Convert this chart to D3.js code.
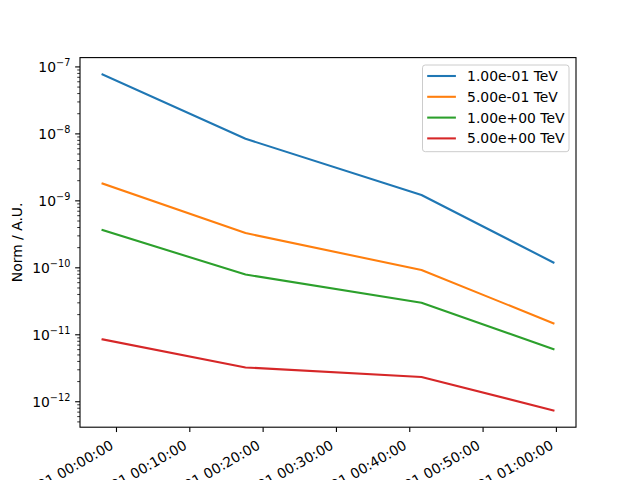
<!DOCTYPE html>
<html>
<head>
<meta charset="utf-8">
<script src="https://cdn.jsdelivr.net/npm/d3@7"></script>
<style>
  body { margin: 0; background: #fff; }
  text { font-family: "DejaVu Sans", sans-serif; }
</style>
</head>
<body>
<svg id="chart" width="640" height="480"></svg>
<script>
// Data
var timeLabels = ["1999-12-31 23:58:10", "2000-01-01 00:17:40", "2000-01-01 00:41:40", "2000-01-01 00:59:40"];
var energies = ["1.00e-01 TeV", "5.00e-01 TeV", "1.00e+00 TeV", "5.00e+00 TeV"];
var norm0 = [7.6e-8, 8.3e-9, 1.2e-9, 1.18e-10];
var norm1 = [1.78e-9, 3.25e-10, 9.1e-11, 1.46e-11];
var norm2 = [3.6e-10, 7.8e-11, 2.95e-11, 6.0e-12];
var norm3 = [8.4e-12, 3.2e-12, 2.3e-12, 7.3e-13];
var tickLabels = ["2000-01-01 00:00:00", "2000-01-01 00:10:00", "2000-01-01 00:20:00",
                  "2000-01-01 00:30:00", "2000-01-01 00:40:00", "2000-01-01 00:50:00",
                  "2000-01-01 01:00:00"];
var decades = [-12, -11, -10, -9, -8, -7];
var colours = ["#1f77b4", "#ff7f0e", "#2ca02c", "#d62728"];

var parse = d3.timeParse("%Y-%m-%d %H:%M:%S");
var fmt = d3.timeFormat("%Y-%m-%d %H:%M:%S");
var times = timeLabels.map(parse);
var tickTimes = tickLabels.map(parse);
var series = [norm0, norm1, norm2, norm3];

// Axes box, matplotlib default placement
var margin = { top: 57.6, right: 64, bottom: 52.8, left: 80 };
var width = 640 - margin.left - margin.right;
var height = 480 - margin.top - margin.bottom;

// 5% margins like matplotlib (log space for y)
var t0 = times[0].getTime(), t1 = times[times.length - 1].getTime();
var padT = (t1 - t0) * 0.05;
var x = d3.scaleTime().domain([new Date(t0 - padT), new Date(t1 + padT)]).range([0, width]);

var allVals = [].concat(norm0, norm1, norm2, norm3);
var lmin = Math.log10(d3.min(allVals)), lmax = Math.log10(d3.max(allVals));
var padL = (lmax - lmin) * 0.05;
var y = d3.scaleLog().domain([Math.pow(10, lmin - padL), Math.pow(10, lmax + padL)]).range([height, 0]);

var svg = d3.select("#chart");
var g = svg.append("g").attr("transform", "translate(" + margin.left + "," + margin.top + ")");

// lines
var line = d3.line()
    .x(function(d, i) { return x(times[i]); })
    .y(function(d) { return y(d); });

series.forEach(function(s, k) {
    g.append("path")
        .attr("d", line(s))
        .attr("fill", "none")
        .attr("stroke", colours[k])
        .attr("stroke-width", 2.08)
        .attr("stroke-linejoin", "round")
        .attr("stroke-linecap", "square");
});

// x axis
var xAxis = d3.axisBottom(x).tickValues(tickTimes).tickFormat(fmt).tickSize(4.86).tickPadding(4.86);
var xg = g.append("g")
    .attr("transform", "translate(0," + height + ")")
    .call(xAxis);
xg.select(".domain").remove();
xg.selectAll(".tick line").attr("stroke", "#000").attr("stroke-width", 1.1);
xg.selectAll(".tick text")
    .attr("font-size", 13.9)
    .attr("fill", "#000")
    .attr("text-anchor", "end")
    .attr("dy", null)
    .attr("y", null)
    .attr("transform", "translate(-2,21) rotate(-30)");

// y axis, major ticks with superscript labels
var majors = decades.map(function(e) { return Math.pow(10, e); });
var yAxis = d3.axisLeft(y).tickValues(majors).tickFormat("").tickSize(4.86);
var yg = g.append("g").call(yAxis);
yg.select(".domain").remove();
yg.selectAll(".tick line").attr("stroke", "#000").attr("stroke-width", 1.1);
yg.selectAll(".tick").each(function(d) {
    var t = d3.select(this).append("text")
        .attr("x", -9.7)
        .attr("y", 5)
        .attr("text-anchor", "end")
        .attr("fill", "#000")
        .attr("font-size", 13.9);
    t.append("tspan").text("10");
    t.append("tspan").attr("font-size", 9.7).attr("dy", -6).text("\u2212" + Math.abs(Math.round(Math.log10(d))));
});

// minor ticks
var dom = y.domain();
var minors = [];
for (var e = -13; e <= -7; e++) {
    for (var m = 2; m <= 9; m++) {
        var v = m * Math.pow(10, e);
        if (v >= dom[0] && v <= dom[1]) minors.push(v);
    }
}
var ym = g.append("g").call(d3.axisLeft(y).tickValues(minors).tickFormat("").tickSize(2.78));
ym.select(".domain").remove();
ym.selectAll(".tick line").attr("stroke", "#000").attr("stroke-width", 0.8);

// frame
g.append("rect")
    .attr("width", width).attr("height", height)
    .attr("fill", "none").attr("stroke", "#000").attr("stroke-width", 1.1);

// y label
svg.append("text")
    .attr("transform", "translate(22," + (margin.top + height / 2) + ") rotate(-90)")
    .attr("text-anchor", "middle")
    .attr("font-size", 13.9)
    .attr("fill", "#000")
    .text("Norm / A.U.");

// legend
var lg = g.append("g").attr("transform", "translate(" + (width - 153.5) + ",7.4)");
lg.append("rect")
    .attr("width", 146.5).attr("height", 86.7)
    .attr("rx", 2.8)
    .attr("fill", "#fff").attr("fill-opacity", 0.8)
    .attr("stroke", "#cccccc").attr("stroke-width", 1);
energies.forEach(function(name, k) {
    var yy = 11 + k * 20.8;
    lg.append("line")
        .attr("x1", 4.7).attr("x2", 33.4)
        .attr("y1", yy).attr("y2", yy)
        .attr("stroke", colours[k]).attr("stroke-width", 2.08);
    lg.append("text")
        .attr("x", 44.6).attr("y", yy + 5)
        .attr("font-size", 13.9)
        .attr("fill", "#000")
        .text(name);
});
</script>
</body>
</html>
